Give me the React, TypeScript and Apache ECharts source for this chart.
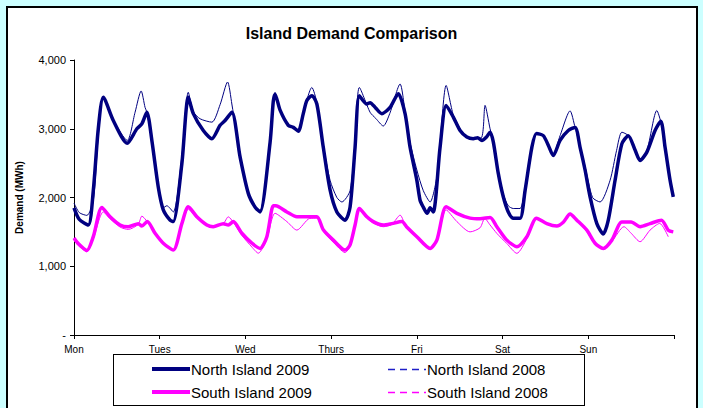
import React, { useEffect, useRef } from "react";
import * as echarts from "echarts";

const dayLabels = ["Mon", "Tues", "Wed", "Thurs", "Fri", "Sat", "Sun"];
const yTicks = [0, 1000, 2000, 3000, 4000];

const ni2009Hours = [0, 1.5, 4.0, 5.4, 6.8, 8.2, 11, 14.9, 17.6, 19, 20.4, 21.8, 23.6, 25, 26.9, 27.8, 30.2, 32, 33.4, 36.2, 38.6, 40.9, 42.3, 44.2, 46.5, 48.8, 50.7, 52.1, 54.9, 55.8, 56.3, 57.7, 60, 61.4, 62.8, 64.2, 65.2, 66.6, 68, 69.8, 71.7, 73.6, 75.9, 77.3, 78.7, 79.9, 82, 82.9, 84.5, 86.2, 88.5, 90.8, 92.7, 94.1, 96, 96.9, 97.8, 98.9, 99.7, 100.6, 102.5, 104.2, 106.2, 108.1, 110, 111.8, 113, 114.2, 115.5, 116.5, 117.4, 118.8, 120.2, 121.6, 123, 124.9, 126.3, 128.2, 129.5, 131.4, 132.8, 134.2, 136.1, 138.4, 140.3, 141.7, 143.1, 144.5, 146.4, 148.2, 149.6, 151.5, 153.4, 155.2, 157.1, 158.5, 160.4, 162.7, 164.3, 165.5, 166.9, 167.8];
const ni2009 = [1850, 1680, 1600, 2100, 3000, 3460, 3120, 2790, 3000, 3070, 3240, 2830, 2150, 1820, 1670, 1650, 2490, 3460, 3220, 2975, 2855, 3050, 3120, 3240, 2590, 2060, 1860, 1790, 2800, 3400, 3500, 3270, 3050, 3020, 2965, 3220, 3410, 3480, 3360, 2730, 2110, 1790, 1670, 1860, 2730, 3480, 3360, 3380, 3300, 3220, 3310, 3510, 3220, 2730, 2250, 1960, 1860, 1770, 1850, 1790, 2730, 3340, 3170, 2975, 2880, 2855, 2870, 2830, 2880, 2950, 2810, 2350, 2010, 1790, 1700, 1700, 2100, 2730, 2930, 2900, 2760, 2610, 2830, 2975, 3020, 2730, 2400, 2010, 1620, 1470, 1670, 2250, 2780, 2900, 2690, 2540, 2660, 2975, 3110, 2730, 2250, 2010];

const ni2008Hours = [0, 1.5, 3.6, 5.4, 6.8, 8.2, 11, 14.9, 17.1, 18.8, 19.9, 20.4, 21.8, 23.6, 25, 26, 27.8, 30.2, 32, 33.4, 35.3, 38.6, 40.9, 43, 44.2, 46.5, 48.8, 50.7, 52.1, 54.9, 56.3, 57.7, 60, 62.8, 64.2, 66.6, 68, 69.8, 71.7, 73.6, 75, 77.3, 78.7, 79.9, 82.9, 84.5, 86.6, 88.4, 91.3, 92.7, 94.1, 96, 97.8, 99.7, 101.6, 102.5, 104.2, 106.2, 108.1, 110, 111.8, 114.2, 115.1, 116.5, 117.4, 118.8, 120.2, 121.6, 123, 124.9, 126.3, 128.2, 129.5, 131.4, 132.8, 134.2, 136.1, 138.9, 140.3, 141.7, 143.1, 145.2, 147.3, 150.1, 151.9, 153.4, 155.2, 157.1, 158.5, 160.4, 163.2, 164.3, 165.5, 166.9, 167.8];
const ni2008 = [1920, 1780, 1740, 1950, 2900, 3460, 3130, 2830, 3240, 3550, 3310, 3240, 2830, 2150, 1850, 1880, 1790, 2600, 3530, 3250, 3145, 3096, 3350, 3680, 3360, 2600, 2070, 1870, 1810, 2820, 3530, 3280, 3060, 2980, 3230, 3600, 3380, 2760, 2250, 2000, 1935, 2100, 2800, 3600, 3240, 3150, 3040, 3220, 3650, 3250, 2800, 2400, 2100, 1935, 2300, 2800, 3630, 3200, 3000, 2880, 2850, 2880, 3340, 3000, 2820, 2380, 2050, 1880, 1840, 1840, 2150, 2760, 2940, 2900, 2770, 2630, 2900, 3260, 3020, 2750, 2450, 2000, 1935, 2250, 2680, 2950, 2900, 2690, 2540, 2680, 3265, 3100, 2730, 2250, 2010];

const si2009Hours = [0, 1.2, 3.6, 5.4, 7.8, 10.1, 12.9, 15.2, 18, 19, 20.5, 22.7, 25, 27.8, 30.2, 32, 34.4, 37.2, 39, 41.8, 43.2, 44.6, 47, 49.8, 52.1, 54, 55.8, 56.5, 59.6, 62.4, 65, 68, 69.8, 72.6, 75.9, 77.3, 78.7, 79.9, 82, 83.8, 86.6, 89, 91.8, 93.1, 96, 99.7, 101.6, 104.2, 107.2, 110.9, 113.7, 116.5, 118.4, 121.2, 124, 126.8, 129.5, 132.4, 135.2, 137, 138.9, 140.8, 143.6, 145.9, 148.2, 150.6, 153.4, 156, 158.5, 161.3, 164.5, 166.4, 167.8];
const si2009 = [1410, 1330, 1230, 1430, 1855, 1720, 1600, 1575, 1620, 1585, 1650, 1480, 1335, 1235, 1620, 1865, 1720, 1600, 1575, 1620, 1600, 1650, 1480, 1335, 1260, 1430, 1880, 1880, 1790, 1720, 1720, 1720, 1530, 1380, 1235, 1310, 1600, 1840, 1720, 1650, 1600, 1620, 1650, 1575, 1430, 1260, 1380, 1865, 1770, 1700, 1690, 1710, 1575, 1380, 1285, 1430, 1700, 1620, 1585, 1640, 1760, 1670, 1525, 1335, 1260, 1380, 1645, 1645, 1575, 1620, 1670, 1525, 1500];

const si2008Hours = [0, 1.2, 3.6, 5.4, 8.2, 10.1, 12.9, 15.2, 18, 19, 20.5, 22.7, 25, 27.8, 30.2, 32, 34.4, 37.2, 39, 41.8, 43.2, 44.6, 47, 49.8, 51.6, 54, 56.3, 59.6, 62.4, 66, 68, 69.8, 72.6, 75.9, 77.3, 78.7, 79.9, 82, 84, 86.6, 89, 91.3, 93.1, 96, 99.7, 101.6, 104.2, 107.2, 110.9, 113.7, 115, 116.5, 118.4, 121.2, 124, 126.8, 129.5, 132.4, 135.2, 137, 139, 140.8, 143.6, 145.9, 148.2, 150.6, 154, 156, 158.5, 161.3, 164, 166.4];
const si2008 = [1380, 1300, 1210, 1400, 1790, 1690, 1570, 1536, 1610, 1729, 1650, 1480, 1330, 1230, 1600, 1830, 1700, 1590, 1575, 1620, 1719, 1640, 1450, 1280, 1190, 1400, 1770, 1650, 1526, 1696, 1700, 1510, 1350, 1200, 1290, 1580, 1820, 1700, 1620, 1575, 1610, 1743, 1560, 1420, 1250, 1370, 1820, 1650, 1500, 1560, 1696, 1600, 1478, 1330, 1188, 1400, 1690, 1620, 1585, 1650, 1770, 1670, 1500, 1320, 1250, 1360, 1575, 1480, 1357, 1526, 1623, 1429];

const seriesNames = ["North Island 2009", "North Island 2008", "South Island 2009", "South Island 2008"];

const NAVY = "#000080";
const MAGENTA = "#FF00FF";
const FONT = "Liberation Sans, Arial, sans-serif";

function zip(h: number[], v: number[]) {
  return h.map((x, i) => [x, v[i]]);
}

function fmtY(v: number) {
  if (v === 0) return "-";
  return v.toLocaleString("en-US");
}

export default function App() {
  const ref = useRef<HTMLDivElement>(null);
  useEffect(() => {
    if (!ref.current) return;
    const chart = echarts.init(ref.current, undefined, { renderer: "svg" });

    const legendEntry = (name: string, x: number, y: number, color: string, dashed: boolean) => [
      {
        type: "line",
        shape: dashed
          ? { x1: x, y1: y + 0.5, x2: x + 38, y2: y + 0.5 }
          : { x1: x, y1: y, x2: x + 38, y2: y },
        style: dashed
          ? { stroke: color === NAVY ? "#1f1fc8" : color, lineWidth: 1.3, lineDash: [7, 5] }
          : { stroke: color, lineWidth: 4 },
      },
      {
        type: "text",
        x: x + 39,
        y,
        style: {
          text: name,
          fontFamily: FONT,
          fontSize: 15,
          fill: "#000",
          verticalAlign: "middle",
          align: "left",
        },
      },
    ];

    chart.setOption({
      animation: false,
      backgroundColor: "transparent",
      title: {
        text: "Island Demand Comparison",
        left: "center",
        top: 20,
        textStyle: { fontFamily: FONT, fontSize: 16, fontWeight: "bold", color: "#000" },
      },
      graphic: [
        ...legendEntry(seriesNames[0], 152, 369, NAVY, false),
        ...legendEntry(seriesNames[1], 388, 369, NAVY, true),
        ...legendEntry(seriesNames[2], 152, 392, MAGENTA, false),
        ...legendEntry(seriesNames[3], 388, 392, MAGENTA, true),
      ],
      grid: { left: 74, right: 29, top: 60, bottom: 73, containLabel: false },
      xAxis: {
        type: "value",
        min: 0,
        max: 168,
        interval: 24,
        splitLine: { show: false },
        axisLine: { show: true, lineStyle: { color: "#000", width: 1 } },
        axisTick: { show: true, length: 4, lineStyle: { color: "#000" } },
        axisLabel: {
          fontFamily: FONT,
          fontSize: 10,
          color: "#000",
          margin: 9,
          formatter: (v: number) => dayLabels[Math.round(v / 24)] ?? "",
        },
      },
      yAxis: {
        type: "value",
        min: yTicks[0],
        max: yTicks[yTicks.length - 1],
        interval: 1000,
        name: "Demand (MWh)",
        nameLocation: "middle",
        nameGap: 50,
        nameRotate: 90,
        nameTextStyle: { fontFamily: FONT, fontSize: 10, fontWeight: "bold", color: "#000" },
        splitLine: { show: false },
        axisLine: { show: true, lineStyle: { color: "#000", width: 1 } },
        axisTick: { show: true, length: 4, lineStyle: { color: "#000" } },
        axisLabel: {
          fontFamily: FONT,
          fontSize: 11,
          color: "#000",
          margin: 8,
          formatter: fmtY,
        },
      },
      series: [
        {
          name: seriesNames[0],
          type: "line",
          symbol: "none",
          smooth: 0.25,
          data: zip(ni2009Hours, ni2009),
          lineStyle: { color: NAVY, width: 3.5 },
          itemStyle: { color: NAVY },
          z: 2,
        },
        {
          name: seriesNames[2],
          type: "line",
          symbol: "none",
          smooth: 0.25,
          data: zip(si2009Hours, si2009),
          lineStyle: { color: MAGENTA, width: 3.5 },
          itemStyle: { color: MAGENTA },
          z: 2,
        },
        {
          name: seriesNames[1],
          type: "line",
          symbol: "none",
          smooth: 0.25,
          data: zip(ni2008Hours, ni2008),
          lineStyle: { color: NAVY, width: 1 },
          itemStyle: { color: NAVY },
          z: 3,
        },
        {
          name: seriesNames[3],
          type: "line",
          symbol: "none",
          smooth: 0.25,
          data: zip(si2008Hours, si2008),
          lineStyle: { color: MAGENTA, width: 1 },
          itemStyle: { color: MAGENTA },
          z: 3,
        },
      ],
    });
    return () => chart.dispose();
  }, []);

  return (
    <div style={{ position: "fixed", left: 0, top: 0, width: 703, height: 408, background: "#CCFFFF", overflow: "hidden" }}>
      <div
        style={{
          position: "absolute",
          left: 6,
          top: 6,
          width: 692,
          height: 430,
          background: "#fff",
          border: "2px solid #000",
          boxSizing: "border-box",
        }}
      />
      <div
        style={{
          position: "absolute",
          left: 113,
          top: 354,
          width: 472,
          height: 52,
          border: "1px solid #000",
          boxSizing: "border-box",
          background: "#fff",
        }}
      />
      <div ref={ref} style={{ position: "absolute", left: 0, top: 0, width: 703, height: 408 }} />
    </div>
  );
}
